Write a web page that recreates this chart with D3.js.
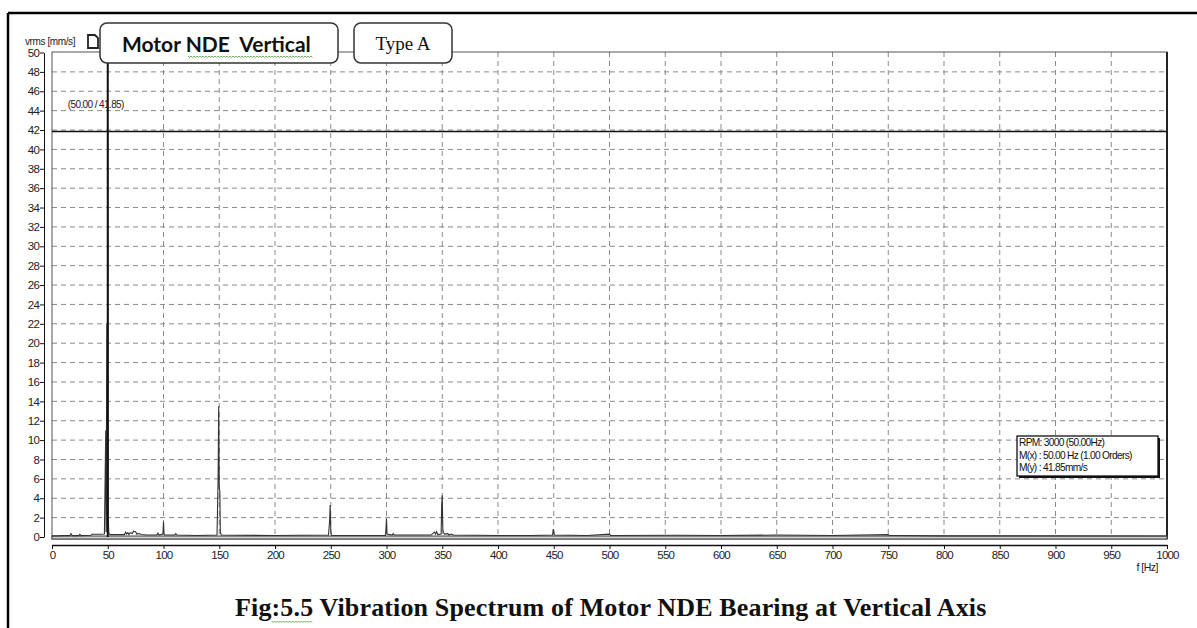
<!DOCTYPE html>
<html><head><meta charset="utf-8">
<script src="https://cdn.jsdelivr.net/npm/d3@7"></script>
<style>
html,body{margin:0;padding:0;background:#fff;}
svg{display:block;}
</style></head>
<body>
<svg id="chart" width="1197" height="628"></svg>
<script>
// ---- data ----
const xTicks = [0,50,100,150,200,250,300,350,400,450,500,550,600,650,700,750,800,850,900,950,1000];
const yTicks = [0,2,4,6,8,10,12,14,16,18,20,22,24,26,28,30,32,34,36,38,40,42,44,46,48,50];
const spectrumHz  = [0,5,10,16,17,18,24,25,26,35,36,44,47,48.2,48.5,49.2,49.6,50,50.4,51,52,60,65,66,67,68,69,70,72,73,75,76,78,80,85,94,95,96,99.5,100,100.5,101,110,111,112,130,148,149,149.5,150,150.5,151,152,200,248,249,249.5,250,250.5,251,299,299.5,300,300.5,305,306,307,340,343,344,345,346,349,349.5,350,350.5,351,352,355,356,358,360,400,430,449,449.5,450,450.5,480,500,501,560,600,650,700,750,751,760,800,1000];
const spectrumAmp = [0.12,0.12,0.14,0.14,0.35,0.14,0.14,0.28,0.14,0.18,0.28,0.28,0.3,11,0.5,22,0.6,41.85,2.0,0.4,0.25,0.25,0.25,0.5,0.3,0.45,0.25,0.45,0.35,0.6,0.55,0.3,0.35,0.25,0.2,0.2,0.4,0.2,0.3,1.6,0.3,0.2,0.2,0.35,0.2,0.15,0.2,6.2,13.5,5.0,4.8,0.4,0.2,0.15,0.2,1.7,3.3,0.8,0.2,0.15,0.15,0.8,1.9,0.3,0.2,0.35,0.2,0.2,0.5,0.3,0.55,0.25,0.3,3.3,4.3,0.8,0.5,0.3,0.35,0.2,0.3,0.2,0.15,0.15,0.2,0.8,0.6,0.2,0.15,0.3,0.15,0.18,0.15,0.2,0.15,0.25,0.15,0.15,0.12,0.1];
const cursorHz = 50.00, cursorAmp = 41.85;
const titleText = "Motor NDE  Vertical";
const typeText = "Type A";
const yLabel = "vrms [mm/s]";
const xLabel = "f [Hz]";
const cursorLabel = "(50.00 / 41.85)";
const infoLines = ["RPM: 3000 (50.00Hz)","M(x) : 50.00 Hz (1.00 Orders)","M(y) : 41.85mm/s"];
const caption = "Fig:5.5 Vibration Spectrum of Motor NDE Bearing at Vertical Axis";

// ---- layout ----
const svg = d3.select("#chart");
const L = 52, R = 1167, T = 52, B = 539;
const x = d3.scaleLinear().domain([0,1000]).range([L,R]);
const y = d3.scaleLinear().domain([0,50]).range([537,52.5]);
const tickFont = "'Liberation Sans', Arial, sans-serif";

// outer frame
svg.append("line").attr("x1",8).attr("x2",1197).attr("y1",13).attr("y2",13).attr("stroke","#000").attr("stroke-width",2.5);
svg.append("line").attr("x1",8).attr("x2",8).attr("y1",13).attr("y2",628).attr("stroke","#000").attr("stroke-width",2.5);

// grid
const grid = svg.append("g");
grid.selectAll(".gx").data(xTicks.filter(d=>d>0&&d<1000)).join("line")
  .attr("x1",d=>x(d)).attr("x2",d=>x(d)).attr("y1",T).attr("y2",B)
  .attr("stroke","#8a8a8a").attr("stroke-width",1).attr("stroke-dasharray","5,4");
grid.selectAll(".gy").data(yTicks.filter(d=>d>0&&d<50)).join("line")
  .attr("x1",L).attr("x2",R).attr("y1",d=>y(d)).attr("y2",d=>y(d))
  .attr("stroke","#8a8a8a").attr("stroke-width",1).attr("stroke-dasharray","5,4");

// plot frame
svg.append("rect").attr("x",L).attr("y",T).attr("width",R-L).attr("height",B-T)
  .attr("fill","none").attr("stroke","#555").attr("stroke-width",1);
svg.append("line").attr("x1",R).attr("x2",R).attr("y1",T).attr("y2",B).attr("stroke","#222").attr("stroke-width",2);
svg.append("rect").attr("x",L).attr("y",y(0)-1).attr("width",R-L).attr("height",B-y(0)+1)
  .attr("fill","#ccc").attr("stroke","#444").attr("stroke-width",1);

// spectrum
const pts = spectrumHz.map((h,i)=>[h,spectrumAmp[i]]);
svg.append("path").datum(pts)
  .attr("d", d3.line().x(d=>x(d[0])).y(d=>y(d[1])))
  .attr("fill","none").attr("stroke","#333").attr("stroke-width",1.1);

// cursors
svg.append("line").attr("x1",L).attr("x2",R).attr("y1",y(cursorAmp)).attr("y2",y(cursorAmp))
  .attr("stroke","#111").attr("stroke-width",1.6);
svg.append("line").attr("x1",x(cursorHz)).attr("x2",x(cursorHz)).attr("y1",T).attr("y2",y(0))
  .attr("stroke","#111").attr("stroke-width",2);
svg.append("text").attr("x",x(cursorHz)-40).attr("y",108).text(cursorLabel)
  .attr("font-family",tickFont).attr("font-size",10).attr("letter-spacing",-0.6).attr("fill","#222");

// y axis
const yAxis = svg.append("g").attr("transform","translate(44,0)")
  .call(d3.axisLeft(y).tickValues(yTicks).tickSizeInner(4).tickSizeOuter(0).tickPadding(1));
yAxis.selectAll("text").attr("font-family",tickFont).attr("font-size",11.5).attr("letter-spacing",-0.8).attr("fill","#222");
yAxis.selectAll("line,path").attr("stroke","#111");

// x axis
const xAxis = svg.append("g").attr("transform","translate(0,545)")
  .call(d3.axisBottom(x).tickValues(xTicks).tickFormat(d3.format("d")).tickSizeInner(4).tickSizeOuter(0).tickPadding(2));
xAxis.select(".domain").attr("stroke","#111").attr("stroke-width",1.6);
xAxis.selectAll("line").attr("stroke","#111");
xAxis.selectAll("text").attr("font-family",tickFont).attr("font-size",11.5).attr("letter-spacing",-0.8).attr("fill","#222");
svg.append("text").attr("x",1158).attr("y",571).attr("text-anchor","end").text(xLabel)
  .attr("font-family",tickFont).attr("font-size",10.5).attr("letter-spacing",-0.5).attr("fill","#222");

// y label + icon
svg.append("text").attr("x",25).attr("y",45).text(yLabel)
  .attr("font-family",tickFont).attr("font-size",10).attr("letter-spacing",-0.4).attr("fill","#222");
svg.append("path").attr("d","M88,35 h7 l3,3 v10 h-10 z").attr("fill","none").attr("stroke","#222").attr("stroke-width",1.8);

// title boxes
function squiggle(x0,x1,yy){
  let d = `M${x0},${yy}`;
  for(let xx=x0+1.5,k=0; xx<=x1; xx+=1.5,k++) d += ` L${xx},${yy+(k%2?0:1.5)}`;
  return d;
}
svg.append("rect").attr("x",100).attr("y",23).attr("width",238).attr("height",40).attr("rx",7)
  .attr("fill","#fff").attr("stroke","#333").attr("stroke-width",1.5);
svg.append("text").attr("x",122).attr("y",52).text(titleText)
  .style("white-space","pre")
  .attr("font-family","Lato, 'Open Sans', sans-serif").attr("font-weight","bold").attr("font-size",21).attr("fill","#111");
svg.append("path").attr("d",squiggle(188,313,56)).attr("fill","none").attr("stroke","#4e9a3a").attr("stroke-width",0.8);

svg.append("rect").attr("x",354).attr("y",23).attr("width",98).attr("height",40).attr("rx",7)
  .attr("fill","#fff").attr("stroke","#333").attr("stroke-width",1.5);
svg.append("text").attr("x",403).attr("y",50).attr("text-anchor","middle").text(typeText)
  .attr("font-family","'Liberation Serif', 'Times New Roman', serif").attr("font-size",19).attr("fill","#111");

// info box
svg.append("rect").attr("x",1019).attr("y",438).attr("width",141).attr("height",40).attr("fill","#111");
svg.append("rect").attr("x",1017).attr("y",436).attr("width",141).attr("height",40)
  .attr("fill","#fff").attr("stroke","#111").attr("stroke-width",1.3);
svg.selectAll(".info").data(infoLines).join("text")
  .attr("x",1019).attr("y",(d,i)=>446+i*12.5).text(d=>d)
  .attr("font-family",tickFont).attr("font-size",10.2).attr("letter-spacing",-0.7).attr("fill","#111");

// caption
const cap = svg.append("text").attr("x",235).attr("y",616).text(caption)
  .attr("font-family","'Liberation Serif', 'Times New Roman', serif").attr("font-weight","bold").attr("font-size",26).attr("letter-spacing",0.15).attr("fill","#111");
let sq0 = 272, sq1 = 313;
try {
  const n = cap.node();
  const s = n.getStartPositionOfChar(3).x, e = n.getEndPositionOfChar(6).x;
  sq0 = s; sq1 = e;
} catch(err) {}
svg.append("path").attr("d",squiggle(sq0,sq1,621)).attr("fill","none").attr("stroke","#4e9a3a").attr("stroke-width",0.8);
</script>
</body></html>
